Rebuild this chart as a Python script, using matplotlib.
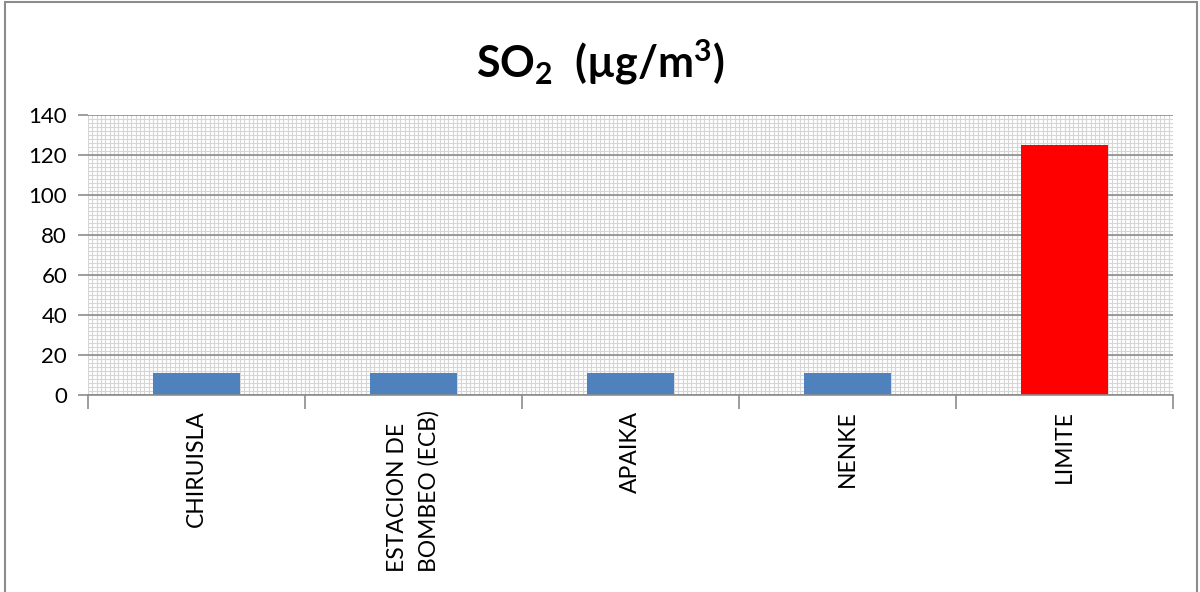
import numpy as np
import matplotlib
matplotlib.use("Agg")
import matplotlib.pyplot as plt
from matplotlib.patches import Rectangle

# data
stations = ["CHIRUISLA", "ESTACION DE\nBOMBEO (ECB)", "APAIKA", "NENKE", "LIMITE"]
so2 = [11, 11, 11, 11, 125]
bar_colors = ["#4f81bd", "#4f81bd", "#4f81bd", "#4f81bd", "#ff0000"]

plt.rcParams["font.family"] = ["Lato", "DejaVu Sans"]
plt.rcParams["mathtext.fontset"] = "custom"
plt.rcParams["mathtext.rm"] = "Lato:bold"
plt.rcParams["mathtext.bf"] = "Lato:bold"

fig = plt.figure(figsize=(12, 5.92), dpi=100)
ax = fig.add_axes([88 / 1200, 1 - 395 / 592, (1173 - 88) / 1200, (395 - 115) / 592])

x = np.arange(len(stations))
ax.bar(x, so2, width=0.4, color=bar_colors, zorder=3)

ax.set_xlim(-0.5, len(stations) - 0.5)
ax.set_ylim(0, 140)

# fine background grid
for v in np.arange(-0.5, len(stations) - 0.5, 0.02):
    ax.axvline(v, color="#d6d6d6", lw=0.8, zorder=1)
for h in np.arange(0, 140, 2):
    ax.axhline(h, color="#d6d6d6", lw=0.8, zorder=1)
# major gridlines
ax.set_yticks(np.arange(0, 141, 20))
ax.yaxis.grid(True, color="#8c8c8c", lw=1.2)
for gl in ax.get_ygridlines():
    gl.set_zorder(2)

ax.set_xticks(np.arange(-0.5, len(stations), 1))
ax.set_xticklabels([])
ax.tick_params(axis="x", direction="out", length=10, color="#8c8c8c", width=1.2)
ax.tick_params(axis="y", direction="out", length=7, color="#8c8c8c", width=1.2,
               labelsize=16, pad=8)
for i, name in enumerate(stations):
    ax.text(i, -0.055, name, transform=ax.get_xaxis_transform(), rotation=90,
            ha="center", va="top", fontsize=16.5, linespacing=1.55,
            multialignment="left")

for s in ["top", "right", "left"]:
    ax.spines[s].set_visible(False)
ax.spines["bottom"].set_color("#8c8c8c")
ax.spines["bottom"].set_linewidth(1.2)
ax.spines["bottom"].set_zorder(4)

fig.text(0.5, 1 - 62 / 592, r"SO$_2$  (µg/m$^3$)", ha="center", va="center",
         fontsize=31, fontweight="bold")

fig.patches.append(Rectangle((5 / 1200, -0.01), 1192 / 1200, 1 - 2 / 592 + 0.01,
                             transform=fig.transFigure, fill=False,
                             edgecolor="#8c8c8c", lw=1.5))

fig.savefig("out.png", dpi=100)
